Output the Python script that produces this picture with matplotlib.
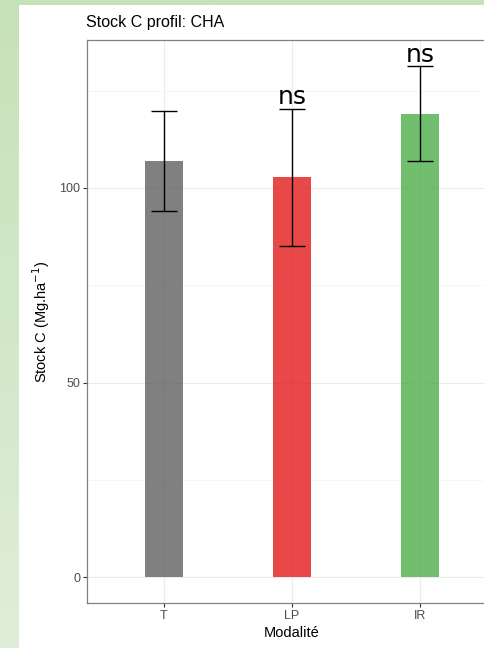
import numpy as np
import matplotlib
matplotlib.use("Agg")
import matplotlib.pyplot as plt
from matplotlib.patches import Rectangle
from matplotlib.colors import LinearSegmentedColormap

# Data
modalites = ["T", "LP", "IR"]
stock_c = [107.0, 102.7, 119.1]
stock_sd = [12.8, 17.7, 12.1]
signif = ["", "ns", "ns"]
bar_colors = ["#606060", "#E41A1C", "#4DAF4A"]

W, H, DPI = 484, 648, 100
fig = plt.figure(figsize=(W / DPI, H / DPI), dpi=DPI)

# Soft green gradient backdrop behind the white plot area
bg = fig.add_axes([0, 0, 1, 1], zorder=-10)
grad = np.linspace(0, 1, 256).reshape(-1, 1)
cmap = LinearSegmentedColormap.from_list("bg", ["#c7e1b8", "#dfeed8"])
bg.imshow(grad, aspect="auto", cmap=cmap, extent=[0, 1, 0, 1], origin="upper")
bg.add_patch(Rectangle((19 / W, 0), 1 - 19 / W, (H - 5) / H,
                       transform=bg.transAxes, facecolor="white", edgecolor="none"))
bg.set_xlim(0, 1)
bg.set_ylim(0, 1)
bg.axis("off")

left, right = 87 / W, 497 / W
top, bottom = 1 - 40 / H, 1 - 603 / H
ax = fig.add_axes([left, bottom, right - left, top - bottom])
ax.set_facecolor("white")

x = np.arange(1, len(modalites) + 1)
ax.bar(x, stock_c, width=0.3, color=bar_colors, alpha=0.8, zorder=2, linewidth=0)
ax.errorbar(x, stock_c, yerr=stock_sd, fmt="none", ecolor="black",
            elinewidth=1.0, capsize=9.5, capthick=1.0, zorder=3)

for xi, m, s, lab in zip(x, stock_c, stock_sd, signif):
    if lab:
        ax.text(xi, m + s + 1.2, lab, ha="center", va="baseline",
                fontsize=18, family="DejaVu Sans", color="black", zorder=4)

ax.set_xlim(0.4, 3.6)
ax.set_ylim(-6.6, 138.0)
ax.set_xticks(x)
ax.set_xticklabels(modalites)
ax.set_yticks([0, 50, 100])
ax.set_yticks([25, 75, 125], minor=True)

ax.grid(True, which="major", color="#ebebeb", linewidth=0.8, zorder=0)
ax.grid(True, which="minor", axis="y", color="#f3f3f3", linewidth=0.5, zorder=0)
ax.set_axisbelow(True)

for sp in ax.spines.values():
    sp.set_color("#808080")
    sp.set_linewidth(0.9)

ax.tick_params(which="major", length=3, width=0.8, color="#333333",
               labelsize=9, labelcolor="#4d4d4d", pad=2)
ax.tick_params(which="minor", length=0)
for lab in ax.get_xticklabels() + ax.get_yticklabels():
    lab.set_family("Liberation Sans")

ax.set_xlabel("Modalité", fontsize=10.5, family="Liberation Sans", labelpad=3)
ax.set_ylabel("Stock C (Mg.ha$^{-1}$)", fontsize=10.5, family="Liberation Sans", labelpad=5)
fig.text(86 / W, 1 - 22 / H, "Stock C profil: CHA", fontsize=11.5,
         family="Liberation Sans", ha="left", va="center")

fig.savefig("out.png", dpi=DPI)
